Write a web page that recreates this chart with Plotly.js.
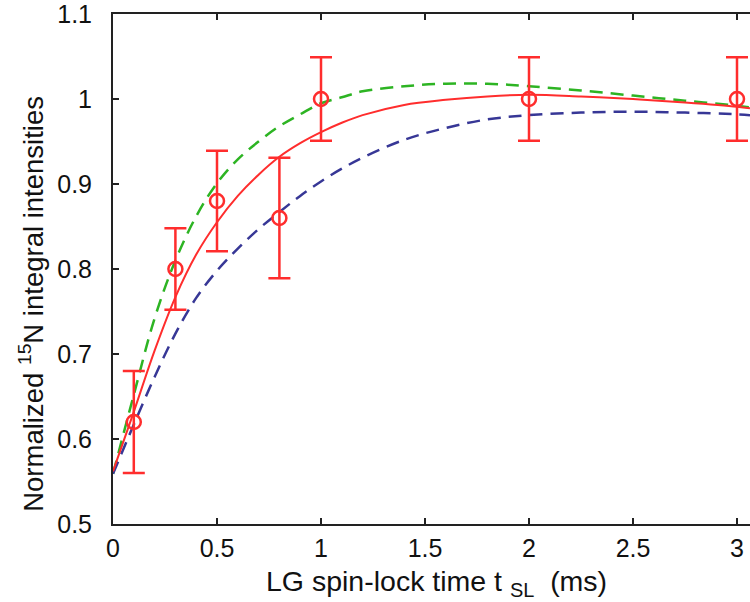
<!DOCTYPE html>
<html>
<head>
<meta charset="utf-8">
<script src="https://cdn.plot.ly/plotly-3.0.1.min.js"></script>
<style>
html,body{margin:0;padding:0;background:#fff;overflow:hidden;}
#chart{width:750px;height:602px;}
</style>
</head>
<body>
<div id="chart"></div>
<script>
// Measured data points
const tData = [0.1, 0.3, 0.5, 0.8, 1.0, 2.0, 3.0];
const yData = [0.62, 0.80, 0.88, 0.86, 1.00, 1.00, 1.00];
const yErr  = [0.06, 0.048, 0.059, 0.071, 0.049, 0.049, 0.049];

// Curve sample times
const tFit   = [0, 0.1, 0.2, 0.3, 0.4, 0.5, 0.6, 0.7, 0.8, 0.9, 1.0, 1.1, 1.2, 1.4, 1.6, 1.8, 2.0, 2.25, 2.5, 2.75, 3.0, 3.0625];
// Fitted curve (solid red)
const yFit   = [0.562, 0.632, 0.704, 0.767, 0.817, 0.855, 0.886, 0.911, 0.932, 0.948, 0.961, 0.972, 0.981, 0.993, 0.999, 1.003, 1.005, 1.003, 1.000, 0.996, 0.991, 0.989];
// Upper simulation (green dashed)
const yGreen = [0.559, 0.652, 0.742, 0.810, 0.862, 0.901, 0.929, 0.950, 0.968, 0.982, 0.995, 1.002, 1.009, 1.015, 1.018, 1.018, 1.015, 1.010, 1.004, 0.998, 0.992, 0.990];
// Lower simulation (blue dashed)
const yBlue  = [0.559, 0.617, 0.673, 0.724, 0.766, 0.798, 0.824, 0.847, 0.867, 0.886, 0.903, 0.918, 0.931, 0.952, 0.966, 0.976, 0.981, 0.984, 0.985, 0.984, 0.982, 0.981];

const xTicks = [0, 0.5, 1, 1.5, 2, 2.5, 3];
const xTickText = ['0', '0.5', '1', '1.5', '2', '2.5', '3'];
const yTicks = [0.5, 0.6, 0.7, 0.8, 0.9, 1.0, 1.1];
const yTickText = ['0.5', '0.6', '0.7', '0.8', '0.9', '1', '1.1'];

const xTitle = 'LG spin-lock time t <sub>SL</sub>  (ms)';
const yTitle = 'Normalized <sup>15</sup>N integral intensities';

const RED = 'rgb(255,45,45)';
const GREEN = 'rgb(45,180,35)';
const BLUE = 'rgb(55,55,150)';
const FONT = '"Liberation Sans", Arial, Helvetica, sans-serif';

const traces = [
  {x: tFit, y: yGreen, mode: 'lines', line: {color: GREEN, width: 2.5, dash: '13px,8px', shape: 'spline', smoothing: 1}, hoverinfo: 'skip'},
  {x: tFit, y: yBlue, mode: 'lines', line: {color: BLUE, width: 2.5, dash: '13px,8px', shape: 'spline', smoothing: 1}, hoverinfo: 'skip'},
  {x: tFit, y: yFit, mode: 'lines', line: {color: RED, width: 2, shape: 'spline', smoothing: 1}, hoverinfo: 'skip'},
  {x: tData, y: yData, mode: 'markers', cliponaxis: false,
   marker: {symbol: 'circle-open', size: 14, color: RED, line: {color: RED, width: 2.5}},
   error_y: {type: 'data', array: yErr, visible: true, color: RED, thickness: 2.5, width: 11}}
];

const layout = {
  width: 750, height: 602,
  margin: {l: 113, r: 0, t: 14, b: 77.5},
  paper_bgcolor: '#fff', plot_bgcolor: '#fff',
  showlegend: false,
  font: {family: FONT, color: '#111'},
  xaxis: {
    range: [0, 3.0625], tickvals: xTicks, ticktext: xTickText,
    ticks: 'inside', ticklen: 6, tickwidth: 1.5, tickcolor: '#222',
    showline: true, linecolor: '#222', linewidth: 2, mirror: 'ticks',
    showgrid: false, zeroline: false,
    tickfont: {size: 25, family: FONT, color: '#111'},
    ticklabelstandoff: 1, ticklabeloverflow: 'allow'
  },
  yaxis: {
    range: [0.5, 1.1], tickvals: yTicks, ticktext: yTickText,
    ticks: 'inside', ticklen: 6, tickwidth: 1.5, tickcolor: '#222',
    showline: true, linecolor: '#222', linewidth: 2, mirror: false,
    showgrid: false, zeroline: false,
    tickfont: {size: 25, family: FONT, color: '#111'},
    ticklabelstandoff: 14, ticklabeloverflow: 'allow'
  },
  annotations: [
    {text: xTitle, xref: 'paper', yref: 'paper', x: 0.508, y: -0.116, xanchor: 'center', yanchor: 'middle',
     showarrow: false, font: {size: 28.5, family: FONT, color: '#111'}},
    {text: yTitle, xref: 'paper', yref: 'paper', x: -0.127, y: 0.432, xanchor: 'center', yanchor: 'middle',
     textangle: -90, showarrow: false, font: {size: 27.5, family: FONT, color: '#111'}}
  ]
};

Plotly.newPlot('chart', traces, layout, {displayModeBar: false, staticPlot: true});
</script>
</body>
</html>
